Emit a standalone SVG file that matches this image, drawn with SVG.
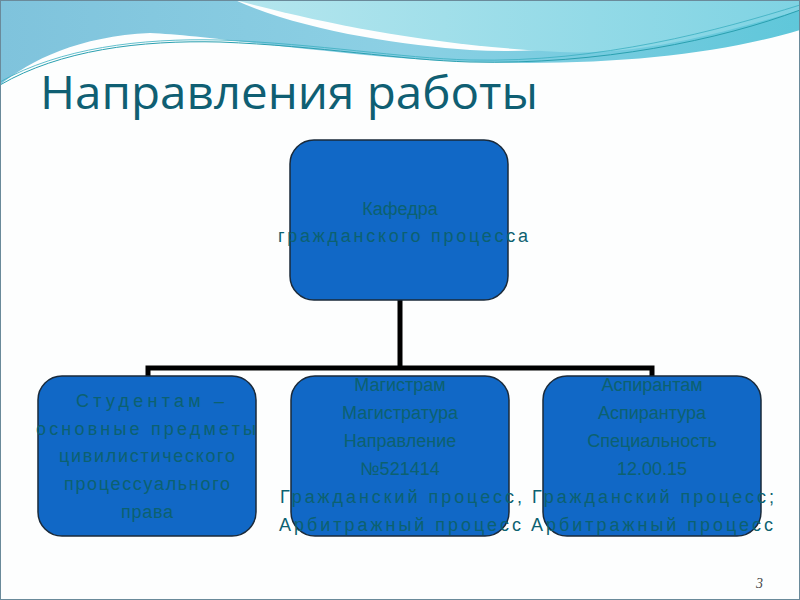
<svg xmlns="http://www.w3.org/2000/svg" width="800" height="600" viewBox="0 0 800 600">
<style>
.box{fill:#1168c6;stroke:#1a2a3a;stroke-width:1.5}
.t{font-family:"Liberation Sans",Arial,sans-serif;font-size:18px;fill:#0c6170;text-anchor:middle}
.c{fill:none;stroke:#000;stroke-width:5}
</style>
<defs>
<linearGradient id="g1" x1="0" y1="0" x2="1" y2="0"><stop offset="0" stop-color="#7fc3dc"/><stop offset="0.5" stop-color="#8cd0e4"/><stop offset="1" stop-color="#5fc7da"/></linearGradient>
<linearGradient id="g2" x1="0" y1="0" x2="1" y2="0"><stop offset="0" stop-color="#b5e6ee"/><stop offset="1" stop-color="#7fd3e3"/></linearGradient>
</defs>
<rect width="800" height="600" fill="#fdfefe"/>
<path d="M0 0 H235 C300 30 400 45 470 50 C560 55 650 40 800 10 V30 C700 60 560 70 400 58 C300 50 200 35 150 33 C80 36 30 60 0 85 Z" fill="url(#g1)"/>
<path d="M235 0 H800 V10 C700 40 630 55 560 52 C430 45 330 25 235 0 Z" fill="url(#g2)"/>
<path d="M0 85 C60 50 140 40 220 42 C320 46 400 60 470 62 C600 65 720 40 800 10" fill="none" stroke="#2aa0b0" stroke-width="1"/>
<path d="M0 82 C60 48 140 38 220 40 C320 44 400 58 470 60 C600 63 720 30 800 5" fill="none" stroke="#3aaec0" stroke-width="0.8"/>
<rect x="0.5" y="0.5" width="799" height="599" fill="none" stroke="#6a8a9a" stroke-width="1"/>
<text x="40" y="109" font-family="'Open Sans','Noto Sans',sans-serif" font-size="46" fill="#0f5f73" textLength="498" lengthAdjust="spacingAndGlyphs">Направления работы</text>
<g id="connectors">
<path class="c" d="M400 300 V368 M148 376 V368 H652 V376"/>
</g>
<g id="n0"><rect class="box" x="290" y="140" width="218" height="160" rx="24"/>
<text class="t" x="400" y="215">Кафедра</text><text class="t" x="403" y="242" textLength="250">гражданского процесса</text></g>
<g id="n1"><rect class="box" x="38" y="376" width="218" height="160" rx="24"/>
<text class="t" x="150" y="407" textLength="148">Студентам –</text><text class="t" x="146" y="435" textLength="220">основные предметы</text><text class="t" x="147" y="462" textLength="176">цивилистического</text><text class="t" x="147" y="490" textLength="166">процессуального</text><text class="t" x="147" y="518" textLength="52">права</text></g>
<g id="n2"><rect class="box" x="291" y="376" width="218" height="160" rx="24"/>
<text class="t" x="400" y="391">Магистрам</text><text class="t" x="400" y="419">Магистратура</text><text class="t" x="400" y="447">Направление</text><text class="t" x="400" y="475">№521414</text><text class="t" x="401" y="503" textLength="242">Гражданский процесс,</text><text class="t" x="400" y="531" textLength="242">Арбитражный процесс</text></g>
<g id="n3"><rect class="box" x="543" y="376" width="218" height="160" rx="24"/>
<text class="t" x="652" y="391">Аспирантам</text><text class="t" x="652" y="419">Аспирантура</text><text class="t" x="652" y="447">Специальность</text><text class="t" x="652" y="475">12.00.15</text><text class="t" x="653" y="503" textLength="242">Гражданский процесс;</text><text class="t" x="652" y="531" textLength="242">Арбитражный процесс</text></g>
<text x="756" y="588" font-family="'Liberation Serif',serif" font-style="italic" font-size="14" fill="#444">3</text>
</svg>
